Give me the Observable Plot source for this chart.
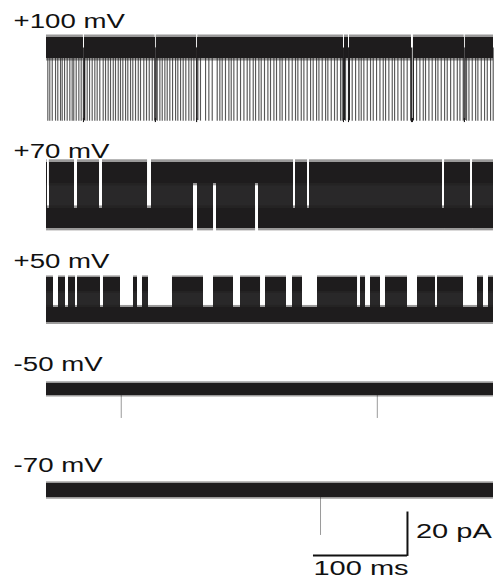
<!DOCTYPE html>
<html>
<head>
<meta charset="utf-8">
<script src="https://cdn.jsdelivr.net/npm/d3@7"></script>
<script src="https://cdn.jsdelivr.net/npm/@observablehq/plot@0.6"></script>
<style>
  html, body { margin: 0; padding: 0; background: #fff; }
  #chart svg { display: block; }
</style>
</head>
<body>
<div id="chart"></div>
<script>
// Single-channel recordings at five holding potentials.
const voltages = ["+100 mV", "+70 mV", "+50 mV", "-50 mV", "-70 mV"];
const duration = 475.5;                       // ms shown per sweep
const unitary = [33.4, 21.0, 14.0, -13.4, -20.7];   // open minus closed level, pA
const openNoise = [4.8, 4.8, 3.2, 0.5, 0.5];        // half-width of open-level noise, pA
const closedNoise = [0.8, 4.6, 3.5, 2.8, 3.2];      // half-width of closed-level noise, pA

// Gating state from each change point on: O open, C closed, F unresolved flicker
const segments100 = [[0,"O"],[39.2,"C"],[40.4,"O"],[115.5,"C"],[116.6,"O"],[159.8,"C"],[161.0,"O"],
  [315.9,"C"],[317.0,"O"],[321.2,"C"],[322.3,"O"],[388.2,"C"],[390.3,"O"],[444.3,"C"],[445.4,"O"]];
const segments70 = [[0,"F"],[0.8,"C"],[3.0,"F"],[29.8,"C"],[33.0,"F"],[56.4,"C"],[59.6,"F"],
  [107.5,"C"],[111.7,"F"],[156.4,"O"],[160.7,"F"],[177.7,"O"],[180.9,"F"],[222.4,"O"],[225.6,"F"],
  [262.8,"C"],[264.9,"F"],[277.7,"C"],[279.8,"F"],[421.3,"C"],[423.5,"F"],[451.1,"C"],[453.3,"F"]];
const segments50 = [[0,"F"],[7.4,"C"],[12.8,"F"],[20.2,"C"],[23.4,"F"],[30.9,"C"],[33.0,"F"],
  [57.4,"C"],[60.6,"F"],[78.7,"C"],[92.6,"F"],[96.8,"C"],[102.1,"F"],[108.5,"C"],[134.0,"F"],
  [167.0,"C"],[177.7,"F"],[198.9,"C"],[206.4,"F"],[227.7,"C"],[233.0,"F"],[255.3,"C"],[261.7,"F"],
  [272.3,"C"],[288.3,"F"],[330.9,"C"],[334.0,"F"],[339.4,"C"],[344.7,"F"],[355.3,"C"],[360.6,"F"],
  [384.0,"C"],[394.7,"F"],[413.8,"C"],[416.0,"F"],[443.6,"C"],[458.5,"F"],[464.9,"C"],[470.2,"F"]];
const segmentsNeg50 = [[0,"C"]];
const segmentsNeg70 = [[0,"C"]];

// Brief (unresolved) transitions to the other level, ms
const brief100 = [1.4,3.5,6.1,9.6,12.0,14.9,16.7,19.2,22.0,24.8,27.3,29.0,31.6,34.4,36.9,40.8,43.3,
  45.8,48.6,51.4,53.9,56.7,60.3,62.8,65.6,68.1,71.0,73.4,76.3,78.7,81.2,84.1,86.5,89.4,91.8,94.7,
  97.6,100.0,103.5,106.4,109.3,112.5,115.2,117.8,120.6,123.1,125.9,128.4,131.2,134.1,137.3,139.7,
  142.6,145.4,148.2,151.4,154.0,156.8,159.6,163.8,169.2,172.7,176.3,181.6,184.4,186.9,190.4,194.0,
  196.5,199.3,202.9,206.4,210.0,213.5,216.3,219.9,222.4,225.9,228.4,231.9,235.5,238.3,241.9,244.7,
  248.3,250.7,254.3,257.8,261.4,264.9,267.4,271.0,273.8,277.3,280.9,283.7,287.3,289.8,293.3,296.9,
  299.3,302.9,306.4,309.3,312.8,314.6,318.1,321.7,325.2,328.8,332.3,334.8,337.6,341.2,344.7,347.6,
  351.1,354.7,358.2,360.7,364.2,367.8,370.3,373.8,377.4,380.2,383.7,387.3,390.1,393.7,397.2,400.8,
  403.2,406.8,410.3,413.9,416.4,419.9,423.5,426.3,429.9,433.4,437.0,439.8,443.3,446.9,449.4,452.9,
  456.5,458.9,462.5,466.0,468.9,472.4,475.2];
const brief70 = [];
const brief50 = [];
const briefNeg50 = [79.5, 351.9];
const briefNeg70 = [291.5];

// Scale bars
const scaleBarMs = 100;
const scaleBarPA = 20;

// ---- layout (page axis in pA, sweep start at t = 0) ----
const rowBase = [213.8, 168.7, 124.2, 89.9, 43.3];   // closed level of each sweep
const labelY = [259.4, 199.5, 148.8, 101.4, 54.8];
const labelX = -35;
const barX = 384, barY = 13.4;

const segmentLists = [segments100, segments70, segments50, segmentsNeg50, segmentsNeg70];
const briefLists = [brief100, brief70, brief50, briefNeg50, briefNeg70];

const ink = "#1e1c1d";
const font = "Liberation Sans, Arial, sans-serif";

const bands = [];      // open / closed noise bands
const flicker = [];    // unresolved gating, spans both levels
const transitions = [];
const briefs = [];
voltages.forEach((v, i) => {
  const base = rowBase[i], amp = unitary[i];
  const o = [base + amp - openNoise[i], base + amp + openNoise[i]];
  const c = [base - closedNoise[i], base + closedNoise[i]];
  const segs = segmentLists[i];
  segs.forEach(([t0, s], j) => {
    const t1 = j + 1 < segs.length ? segs[j + 1][0] : duration;
    if (s === "O") bands.push({t0, t1, lo: o[0], hi: o[1], noise: openNoise[i]});
    else if (s === "C") bands.push({t0, t1, lo: c[0], hi: c[1], noise: closedNoise[i]});
    else {
      bands.push({t0, t1, lo: o[0], hi: o[1], noise: openNoise[i]});
      bands.push({t0, t1, lo: c[0], hi: c[1], noise: closedNoise[i]});
      flicker.push({t0, t1, lo: Math.min(o[0], c[0]), hi: Math.max(o[1], c[1])});
    }
    if (j > 0) {
      const prev = segs[j - 1][1];
      if ((prev === "O" && s === "C") || (prev === "C" && s === "O")) {
        transitions.push({t: t0, y1: base, y2: base + amp});
      }
    }
  });
  briefLists[i].forEach(t => {
    briefs.push({t, y1: base - Math.sign(amp) * 0.3, y2: base + amp, row: i});
  });
});

const labels = voltages.map((v, i) => ({text: v, y: labelY[i]}));

const chart = Plot.plot({
  width: 499,
  height: 584,
  margin: 0,
  x: {domain: [-48.94, 481.9], axis: null},
  y: {domain: [0, 269.1], axis: null},
  marks: [
    // brief gating events
    Plot.ruleX(briefs, {x: "t", y1: "y1", y2: "y2",
      stroke: d => d.row < 3 ? "#3a3a3a" : "#9a9a9a", strokeOpacity: d => d.row < 3 ? 0.85 : 1,
      strokeWidth: d => d.row < 3 ? 1.15 : 1}),
    // flicker between levels
    Plot.rect(flicker, {x1: "t0", x2: "t1", y1: "lo", y2: "hi", fill: ink, fillOpacity: 0.95,
      shapeRendering: "crispEdges"}),
    // soft noise fringe
    Plot.rect(bands, {x1: "t0", x2: "t1",
      y1: d => d.lo - d.noise * 0.25, y2: d => d.hi + d.noise * 0.25,
      fill: ink, fillOpacity: 0.45}),
    // noise bands
    Plot.rect(bands, {x1: "t0", x2: "t1", y1: "lo", y2: "hi", fill: ink, shapeRendering: "crispEdges"}),
    Plot.ruleX(transitions, {x: "t", y1: "y1", y2: "y2", stroke: ink, strokeWidth: 1}),
    // labels
    Plot.text(labels, {x: labelX, y: "y", text: "text", textAnchor: "start",
      fontSize: 20, fontFamily: font, fill: "#111"}),
    // scale bars
    Plot.ruleY([barY], {x1: barX - scaleBarMs, x2: barX, stroke: "#111", strokeWidth: 2}),
    Plot.ruleX([barX], {y1: barY - 0.46, y2: barY + scaleBarPA, stroke: "#111", strokeWidth: 2}),
    Plot.text([`${scaleBarPA} pA`], {x: barX + 9, y: barY + 11, text: d => d, textAnchor: "start",
      fontSize: 20, fontFamily: font, fill: "#111"}),
    Plot.text([`${scaleBarMs} ms`], {x: barX - scaleBarMs, y: barY - 6.0, text: d => d, textAnchor: "start",
      fontSize: 20, fontFamily: font, fill: "#111"})
  ]
});
document.getElementById("chart").append(chart);

// The lettering is set extended
chart.querySelectorAll("text").forEach(el => {
  const k = /mV$/.test(el.textContent) ? 1.38 : 1.45;
  const w = el.getComputedTextLength();
  if (w > 0) {
    el.setAttribute("textLength", (w * k).toFixed(1));
    el.setAttribute("lengthAdjust", "spacingAndGlyphs");
  }
});
</script>
</body>
</html>
